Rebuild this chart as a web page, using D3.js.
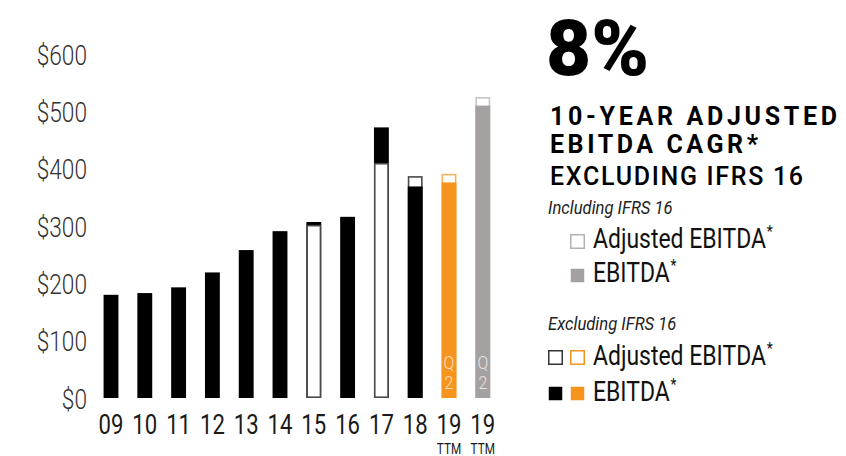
<!DOCTYPE html>
<html><head><meta charset="utf-8">
<script src="https://cdn.jsdelivr.net/npm/d3@7"></script>
<style>
html,body{margin:0;padding:0;background:#fff;}
svg{display:block;font-family:Roboto,"Noto Sans",sans-serif;}
</style></head>
<body>
<svg id="chart" width="846" height="456"></svg>
<script>
// ---- data ----
const categories = ["09","10","11","12","13","14","15","16","17","18","19","19"];
const subLabels  = ["","","","","","","","","","","TTM","TTM"];
const ebitda     = [180,183,193,219,258,291,307,316,472,369,376,510];
const adjusted   = [null,null,null,null,null,null,302,null,410,387,391,525];
const colorGroup = ["black","black","black","black","black","black","black","black","black","black","orange","gray"];
const barNotes   = ["","","","","","","","","","","Q2","Q2"];
const yTicks     = [0,100,200,300,400,500,600];

const bigStat = "8%";
const titleLines = ["10-YEAR ADJUSTED","EBITDA CAGR*","EXCLUDING IFRS 16"];

const palette = {
  black:  {fill:"#000000", stroke:"#4a4a4a", note:"#ffffff"},
  orange: {fill:"#f7941e", stroke:"#f8b15f", note:"#fde2c4"},
  gray:   {fill:"#a6a1a1", stroke:"#c9c5c5", note:"#e6e4e4"}
};

const svg = d3.select("#chart");
const keys = categories.map((c,i)=>i);
const x = d3.scaleBand().domain(keys).range([94.1, 499.7]).paddingInner(0.56).paddingOuter(0.28);
const y = d3.scaleLinear().domain([0,600]).range([398,54]);
const bw = x.bandwidth();
const COND = 0.84;

// y axis
const yAxis = d3.axisLeft(y).tickValues(yTicks).tickSize(0).tickPadding(0).tickFormat(d=>"$"+d);
const gy = svg.append("g").attr("transform","translate(87,0)").call(yAxis);
gy.select(".domain").remove();
gy.selectAll("text")
  .attr("x",0).attr("dy",null).attr("y",10)
  .attr("transform",`scale(${COND},1)`)
  .style("font-family","Roboto").style("font-weight",300)
  .style("font-size","27px").attr("fill","#333");

// x axis
const xAxis = d3.axisBottom(x).tickSize(0).tickPadding(0).tickFormat(i=>categories[i]);
const gx = svg.append("g").attr("transform","translate(0,398)").call(xAxis);
gx.select(".domain").remove();
gx.selectAll(".tick text")
  .attr("y",0).attr("dy",null)
  .attr("transform",`translate(0,36) scale(0.82,1)`)
  .style("font-family","Roboto").style("font-weight",400)
  .style("font-size","27px").attr("fill","#1a1a1a");
gx.selectAll(".tick").each(function(i){
  if(subLabels[i]){
    d3.select(this).append("text")
      .attr("transform",`translate(0,56) scale(${COND},1)`)
      .attr("text-anchor","middle")
      .style("font-family","Roboto").style("font-weight",400)
      .style("font-size","14px").attr("fill","#1a1a1a")
      .text(subLabels[i]);
  }
});

// bars
const bars = svg.append("g");
keys.forEach(i=>{
  const pal = palette[colorGroup[i]];
  const items = [{type:"e", v:ebitda[i]}];
  if(adjusted[i]!=null) items.push({type:"a", v:adjusted[i]});
  items.sort((a,b)=>b.v-a.v);
  const g = bars.append("g");
  items.forEach(it=>{
    if(it.type==="e"){
      g.append("rect").attr("x",x(i)).attr("width",bw)
        .attr("y",y(it.v)).attr("height",y(0)-y(it.v)).attr("fill",pal.fill);
    } else {
      g.append("rect").attr("x",x(i)+0.8).attr("width",bw-1.6)
        .attr("y",y(it.v)+0.8).attr("height",y(0)-y(it.v)-1.6)
        .attr("fill","#fff").attr("stroke",pal.stroke).attr("stroke-width",1.6);
    }
  });
  if(barNotes[i]){
    const cx = x(i)+bw/2;
    const t = g.append("text").attr("transform",`translate(${cx},369) scale(${COND},1)`)
      .attr("text-anchor","middle")
      .style("font-family","Roboto").style("font-weight",300).style("font-size","19px")
      .attr("fill",pal.note);
    barNotes[i].split("").forEach((ch,k)=>{
      t.append("tspan").attr("x",0).attr("dy",k===0?0:20).text(ch);
    });
  }
});

// right-hand text
const r = svg.append("g");
r.append("text").attr("x",546).attr("y",75).text(bigStat)
  .style("font-family","Roboto").style("font-weight",900).style("font-size","78px").attr("fill","#000");
r.append("text").attr("x",550).attr("y",125).text(titleLines[0])
  .attr("textLength",287).attr("lengthAdjust","spacing")
  .style("font-weight",700).style("font-size","25px").attr("fill","#000");
r.append("text").attr("x",550).attr("y",153).text(titleLines[1])
  .attr("textLength",208).attr("lengthAdjust","spacing")
  .style("font-weight",700).style("font-size","25px").attr("fill","#000");
r.append("text").attr("x",550).attr("y",185).text(titleLines[2])
  .attr("textLength",253).attr("lengthAdjust","spacing")
  .style("font-weight",500).style("font-size","25px").attr("fill","#000");

// legend
const lg = svg.append("g");
function heading(txt, yy){
  lg.append("text").attr("transform",`translate(548,${yy}) scale(0.9,1)`)
    .style("font-style","italic").style("font-weight",400).style("font-size","18.5px")
    .attr("fill","#222").text(txt);
}
function label(txt, yy){
  const t = lg.append("text").attr("transform",`translate(593,${yy}) scale(0.82,1)`)
    .style("font-weight",400).style("font-size","28px").attr("fill","#111");
  t.append("tspan").text(txt);
  t.append("tspan").attr("dy",-11).attr("dx",1).style("font-size","17px").text("*");
}
function sq(xx, yy, fill, stroke){
  lg.append("rect").attr("x",xx+0.75).attr("y",yy+0.75).attr("width",13.5).attr("height",13.5)
    .attr("fill",fill).attr("stroke",stroke||"none").attr("stroke-width",stroke?1.5:0);
}
heading("Including IFRS 16", 214);
sq(570,234,"#fff","#b5b1b1");
label("Adjusted EBITDA",248);
sq(570,268,palette.gray.fill);
label("EBITDA",282);
heading("Excluding IFRS 16", 330);
sq(548,350,"#fff","#333");
sq(570,350,"#fff",palette.orange.fill);
label("Adjusted EBITDA",365);
sq(548,386,"#000");
sq(570,386,palette.orange.fill);
label("EBITDA",401);
</script>
</body></html>
